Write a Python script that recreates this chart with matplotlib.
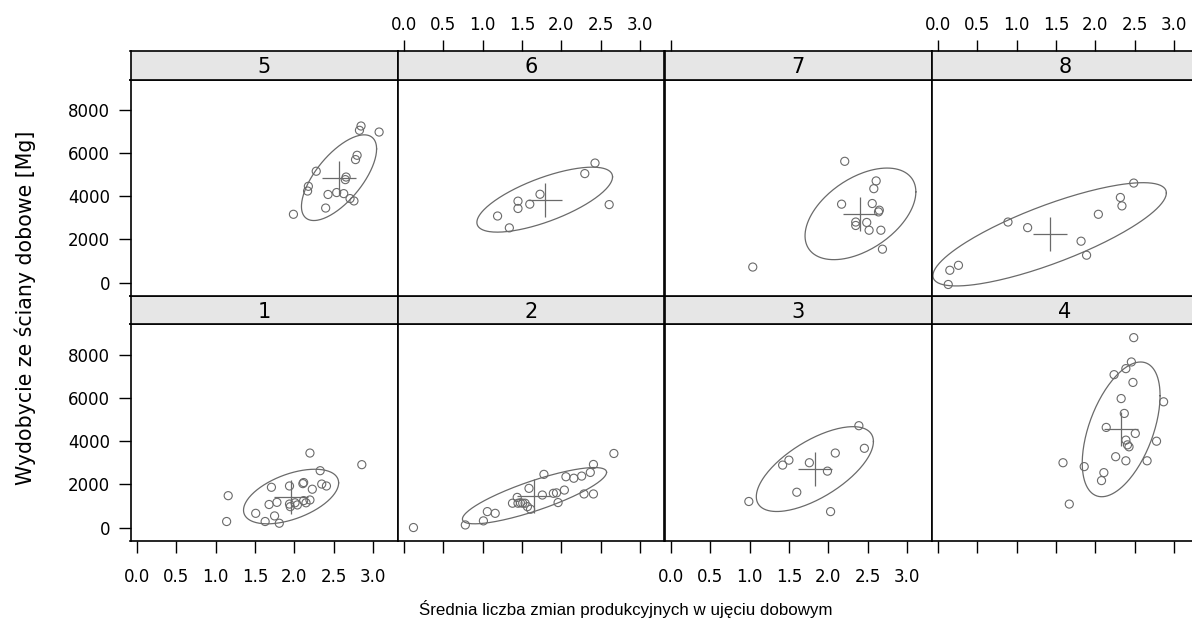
import numpy as np
import matplotlib.pyplot as plt

plt.rcParams['font.family'] = ['DejaVu Sans']

# shift-average vs daily output, one list pair per wall (panel 1..8)
zm_1 = [2.20, 2.86, 2.33, 2.12, 2.11, 2.35, 2.41, 2.23, 1.71, 1.94, 1.16, 1.78, 1.94,
        2.12, 2.20, 2.04, 1.68, 1.51, 1.75, 1.63, 1.81, 1.14, 1.95, 2.01, 2.15]
wyd_1 = [3460, 2920, 2640, 2090, 2040, 2020, 1930, 1780, 1870, 1930, 1480, 1170, 1090,
         1250, 1280, 1050, 1070, 660, 540, 280, 200, 280, 970, 1150, 1150]

zm_2 = [0.12, 0.78, 1.01, 1.06, 1.16, 1.38, 1.45, 1.48, 1.51, 1.44, 1.57, 1.61, 1.59, 1.54,
        1.78, 1.76, 1.90, 1.94, 2.04, 1.96, 2.06, 2.16, 2.26, 2.29, 2.41, 2.37, 2.41, 2.67]
wyd_2 = [0, 120, 310, 740, 660, 1130, 1130, 1150, 1130, 1400, 970, 850, 1820, 1130,
         2470, 1510, 1590, 1610, 1740, 1160, 2360, 2290, 2390, 1560, 1560, 2560, 2930, 3440]

zm_3 = [2.39, 2.46, 2.09, 1.50, 1.42, 1.76, 1.99, 1.60, 0.99, 2.03]
wyd_3 = [4730, 3680, 3460, 3130, 2900, 3010, 2620, 1640, 1210, 740]

zm_4 = [2.49, 2.46, 2.39, 2.24, 2.48, 2.87, 2.33, 2.37, 2.14, 2.51, 2.39, 2.41, 2.43,
        2.78, 2.26, 2.39, 2.66, 1.86, 2.11, 2.08, 1.59, 1.67]
wyd_4 = [8820, 7690, 7380, 7100, 6740, 5840, 5990, 5300, 4650, 4370, 4060, 3840, 3750,
         4010, 3290, 3100, 3100, 2830, 2550, 2180, 3010, 1090]

zm_5 = [2.85, 2.83, 3.08, 2.80, 2.78, 2.28, 2.66, 2.65, 2.18, 2.17, 2.43, 2.54, 2.63,
        2.71, 2.76, 2.40, 1.99]
wyd_5 = [7270, 7070, 6990, 5910, 5710, 5170, 4900, 4780, 4470, 4250, 4090, 4180, 4130,
         3900, 3790, 3460, 3170]

zm_6 = [2.43, 2.30, 2.61, 1.73, 1.60, 1.45, 1.45, 1.19, 1.34]
wyd_6 = [5550, 5060, 3620, 4100, 3640, 3780, 3440, 3090, 2540]

zm_7 = [2.21, 2.61, 2.58, 2.17, 2.56, 2.65, 2.64, 2.35, 2.35, 2.49, 2.52, 2.67, 2.69, 1.04]
wyd_7 = [5630, 4720, 4360, 3640, 3670, 3360, 3280, 2810, 2650, 2790, 2430, 2430, 1550, 720]

zm_8 = [2.49, 2.32, 2.34, 2.04, 0.89, 1.14, 1.82, 1.89, 0.26, 0.15, 0.13]
wyd_8 = [4620, 3950, 3560, 3170, 2810, 2550, 1920, 1270, 800, 570, -90]

zm = [zm_1, zm_2, zm_3, zm_4, zm_5, zm_6, zm_7, zm_8]
wyd = [wyd_1, wyd_2, wyd_3, wyd_4, wyd_5, wyd_6, wyd_7, wyd_8]

# ellipse per panel: centre, half-extent in x and y, correlation
centre_x = [1.96, 1.66, 1.83, 2.33, 2.57, 1.79, 2.41, 1.42]
centre_y = [1440, 1480, 2715, 4560, 4870, 3850, 3190, 2240]
half_x = [0.605, 0.917, 0.745, 0.495, 0.478, 0.863, 0.705, 1.485]
half_y = [1268, 1307, 1970, 3129, 1990, 1509, 2127, 2398]
corr = [0.50, 0.83, 0.65, 0.50, 0.67, 0.70, 0.48, 0.80]

x_ticks = [0.0, 0.5, 1.0, 1.5, 2.0, 2.5, 3.0]
x_labels = ['0.0', '0.5', '1.0', '1.5', '2.0', '2.5', '3.0']
y_ticks = [0, 2000, 4000, 6000, 8000]
x_lim = (-0.083, 3.314)

grey = '#6a6a6a'
W, H = 1192, 622
fig = plt.figure(figsize=(W / 100, H / 100), dpi=100)


def rect(left, top, width, height):
    return [left / W, 1 - (top + height) / H, width / W, height / H]


col_left = [130.5, 397.5, 664.5, 931.5]
panel_w = 267
strip_top = [51, 296]
strip_h = 28.5
panel_h = 216.5

for k in range(1, 9):
    row = 0 if k >= 5 else 1
    col = (k - 1) % 4
    top = strip_top[row] + strip_h
    ax = fig.add_axes(rect(col_left[col], top, panel_w, panel_h))
    ax.set_xlim(*x_lim)
    ax.set_ylim(-625, 9430)

    xs, ys = zm[k - 1], wyd[k - 1]
    ax.scatter(xs, ys, s=34, facecolors='none', edgecolors=grey, linewidths=0.8, zorder=3)

    t = np.linspace(0, 2 * np.pi, 200)
    d = np.arccos(corr[k - 1])
    ex = centre_x[k - 1] + half_x[k - 1] * np.cos(t)
    ey = centre_y[k - 1] + half_y[k - 1] * np.cos(t + d)
    ax.plot(ex, ey, color=grey, lw=0.9)
    ax.plot(centre_x[k - 1], centre_y[k - 1], marker='+', ms=25, mew=0.9, color=grey)

    for sp in ax.spines.values():
        sp.set_linewidth(1.2)

    ax.set_xticks(x_ticks)
    ax.set_xticklabels(x_labels)
    ax.set_yticks(y_ticks)
    ax.tick_params(direction='out', length=8.5, width=1.0, labelsize=12, colors='black')
    ax.tick_params(axis='x', top=False, labeltop=False,
                   bottom=(row == 1), labelbottom=(row == 1 and col in (0, 2)), pad=11)
    if col == 0:
        ax.tick_params(axis='y', left=True, labelleft=True, pad=6)
    else:
        ax.tick_params(axis='y', left=False, labelleft=False)

    # strip with the wall number; top-row strips carry the upper x axis
    sax = fig.add_axes(rect(col_left[col], strip_top[row], panel_w, strip_h))
    sax.set_facecolor('#e6e6e6')
    sax.set_xlim(*x_lim)
    sax.set_yticks([])
    sax.set_xticks([])
    if row == 0 and col in (1, 3):
        sax.set_xticks(x_ticks)
        sax.set_xticklabels(x_labels)
    elif row == 0 and col == 2:
        sax.set_xticks([0.0])
    sax.tick_params(axis='x', direction='out', length=8, width=1.0, labelsize=12,
                    bottom=False, labelbottom=False, top=True,
                    labeltop=(col in (1, 3)), pad=4.5)
    for sp in sax.spines.values():
        sp.set_linewidth(1.2)
    sax.text(0.5, 0.45, str(k), ha='center', va='center', fontsize=15,
             transform=sax.transAxes)

fig.text(0.021, 0.5056, 'Wydobycie ze ściany dobowe [Mg]', rotation=90,
         ha='center', va='center', fontsize=14.8)
fig.text(0.525, 0.021, 'Średnia liczba zmian produkcyjnych w ujęciu dobowym',
         ha='center', va='center', fontsize=12.2,
         family=['Liberation Sans', 'DejaVu Sans'])

fig.savefig('out.png', dpi=100)
